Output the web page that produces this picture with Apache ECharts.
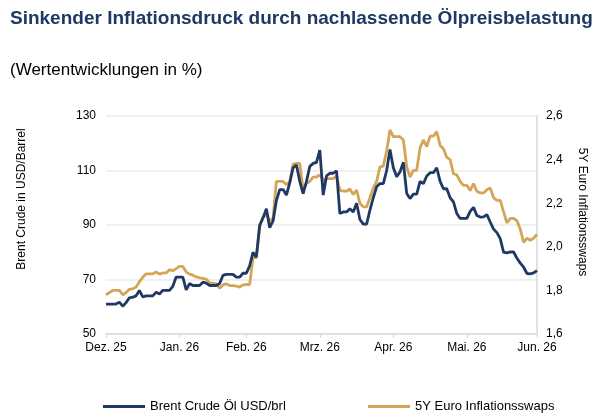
<!DOCTYPE html>
<html>
<head>
<meta charset="utf-8">
<script src="https://cdn.jsdelivr.net/npm/echarts@6/dist/echarts.min.js"></script>
<style>
  html, body { margin: 0; padding: 0; background: #fff; }
  #chart { width: 611px; height: 418px; }
</style>
</head>
<body>
<div id="chart"></div>
<script>
// month labels, placed at trading-day indices
const monthLabels = ['Dez. 25', 'Jan. 26', 'Feb. 26', 'Mrz. 26', 'Apr. 26', 'Mai. 26', 'Jun. 26'];
const monthIndex = [0, 22, 42, 64, 86, 108, 129];

// Brent Crude, USD/brl (left axis)
const brent = [
  61, 61, 61, 61, 61.7, 60.2, 61.5, 63.3, 63.5, 64,
  66, 63.6, 64, 64, 64, 65.3, 64.7, 66, 66, 66,
  67.5, 70.9, 70.9, 70.9, 66.2, 68.5, 67.8, 67.8, 67.8, 69,
  68.7, 67.8, 67.8, 67.8, 68.5, 71.5, 71.9, 71.9, 71.9, 70.9,
  70.9, 72.3, 72.3, 75, 80, 78.2, 90, 92.6, 96, 89,
  91.5, 99, 103, 103, 101, 105.5, 111, 112, 106, 101.5,
  106, 111.5, 112.6, 113, 117.5, 101, 108, 109, 109, 109.9,
  94.2, 94.8, 94.8, 96, 94.8, 98, 92, 90.3, 90.3, 95.5,
  100, 104, 105.2, 105.2, 110, 117.7, 111, 107.7, 109.5, 113,
  101.6, 99.7, 101.3, 101.3, 106, 105.2, 108, 109.2, 109.2, 111,
  106, 103.3, 103.3, 100, 98.5, 94.2, 92.4, 92.4, 92.4, 95,
  96.5, 93.5, 92.9, 93, 93.8, 91.1, 88.5, 87.2, 85, 80,
  79.8, 80.1, 80.1, 77.8, 76, 74.5, 72.2, 72.1, 72.4, 73.3
];

// 5Y Euro inflation swaps, % (right axis)
const swaps = [
  1.78, 1.79, 1.80, 1.80, 1.80, 1.78, 1.79, 1.805, 1.807, 1.815,
  1.84, 1.86, 1.876, 1.876, 1.876, 1.884, 1.875, 1.88, 1.88, 1.895,
  1.89, 1.90, 1.91, 1.91, 1.885, 1.875, 1.87, 1.862, 1.858, 1.855,
  1.852, 1.835, 1.833, 1.83, 1.81, 1.825, 1.83, 1.822, 1.822, 1.82,
  1.815, 1.825, 1.827, 1.827, 1.95, 1.95, 2.09, 2.137, 2.15, 2.12,
  2.13, 2.30, 2.30, 2.30, 2.285, 2.30, 2.38, 2.382, 2.382, 2.26,
  2.29, 2.30, 2.32, 2.32, 2.33, 2.305, 2.313, 2.313, 2.313, 2.325,
  2.26, 2.255, 2.255, 2.265, 2.24, 2.26, 2.20, 2.183, 2.183, 2.225,
  2.27, 2.30, 2.367, 2.37, 2.44, 2.536, 2.505, 2.505, 2.505, 2.49,
  2.367, 2.32, 2.351, 2.351, 2.455, 2.49, 2.46, 2.508, 2.508, 2.528,
  2.465, 2.45, 2.41, 2.40, 2.335, 2.33, 2.30, 2.282, 2.282, 2.258,
  2.29, 2.255, 2.247, 2.247, 2.262, 2.27, 2.225, 2.213, 2.213, 2.16,
  2.11, 2.13, 2.13, 2.12, 2.08, 2.02, 2.04, 2.03, 2.04, 2.057
];

const days = brent.map((v, i) => {
  const k = monthIndex.indexOf(i);
  return k >= 0 ? monthLabels[k] : String(i);
});
const showAt = (i) => monthIndex.indexOf(i) >= 0;

const NAVY = '#1f3864';
const GOLD = '#d4a556';
const font = 'Arial, "Liberation Sans", sans-serif';

const chart = echarts.init(document.getElementById('chart'));

chart.setOption({
  animation: false,
  backgroundColor: '#fff',
  textStyle: { fontFamily: font },
  title: [
    {
      text: 'Sinkender Inflationsdruck durch nachlassende Ölpreisbelastung',
      left: 5, top: 4,
      textStyle: { color: NAVY, fontSize: 19, fontWeight: 'bold', fontFamily: font }
    },
    {
      text: '(Wertentwicklungen in %)',
      left: 5, top: 57,
      textStyle: { color: '#000', fontSize: 17, fontWeight: 'normal', fontFamily: font }
    }
  ],
  legend: [
    {
      data: ['Brent Crude Öl USD/brl'],
      left: 98, top: 395,
      itemWidth: 42, itemHeight: 3, itemGap: 5,
      icon: 'rect',
      textStyle: { color: '#000', fontSize: 13, fontFamily: font }
    },
    {
      data: ['5Y Euro Inflationsswaps'],
      left: 363, top: 395,
      itemWidth: 42, itemHeight: 3, itemGap: 5,
      icon: 'rect',
      textStyle: { color: '#000', fontSize: 13, fontFamily: font }
    }
  ],
  grid: { left: 106, right: 74, top: 116, bottom: 84 },
  xAxis: {
    type: 'category',
    data: days,
    boundaryGap: false,
    axisLine: { lineStyle: { color: '#d9d9d9', width: 1.5 } },
    axisTick: { show: true, interval: showAt, length: 4, lineStyle: { color: '#d9d9d9' } },
    axisLabel: { interval: showAt, color: '#000', fontSize: 12, margin: 8, fontFamily: font },
    splitLine: { show: false }
  },
  yAxis: [
    {
      type: 'value',
      min: 50, max: 130, interval: 20,
      axisLine: { show: false },
      axisTick: { show: false },
      axisLabel: { color: '#000', fontSize: 12, margin: 10, fontFamily: font },
      splitLine: { lineStyle: { color: '#ebebeb', width: 1.5 } }
    },
    {
      type: 'value',
      min: 1.6, max: 2.6, interval: 0.2,
      position: 'right',
      axisLine: { show: true, lineStyle: { color: '#d9d9d9', width: 1.5 } },
      axisTick: { show: false },
      axisLabel: {
        color: '#000', fontSize: 12, margin: 9, fontFamily: font,
        formatter: (v) => v.toFixed(1).replace('.', ',')
      },
      splitLine: { show: false }
    }
  ],
  graphic: [
    {
      type: 'text',
      x: 22, y: 199,
      rotation: Math.PI / 2,
      style: {
        text: 'Brent Crude in USD/Barrel',
        fill: '#000', fontSize: 12, fontFamily: font,
        textAlign: 'center', textVerticalAlign: 'middle'
      }
    },
    {
      type: 'text',
      x: 582, y: 212,
      rotation: -Math.PI / 2,
      style: {
        text: '5Y Euro Inflationsswaps',
        fill: '#000', fontSize: 12, fontFamily: font,
        textAlign: 'center', textVerticalAlign: 'middle'
      }
    }
  ],
  series: [
    {
      name: 'Brent Crude Öl USD/brl',
      type: 'line',
      yAxisIndex: 0,
      data: brent,
      showSymbol: false,
      z: 3,
      lineStyle: { color: NAVY, width: 2.8 },
      itemStyle: { color: NAVY }
    },
    {
      name: '5Y Euro Inflationsswaps',
      type: 'line',
      yAxisIndex: 1,
      data: swaps,
      showSymbol: false,
      z: 2,
      lineStyle: { color: GOLD, width: 2.8 },
      itemStyle: { color: GOLD }
    }
  ]
});
</script>
</body>
</html>
